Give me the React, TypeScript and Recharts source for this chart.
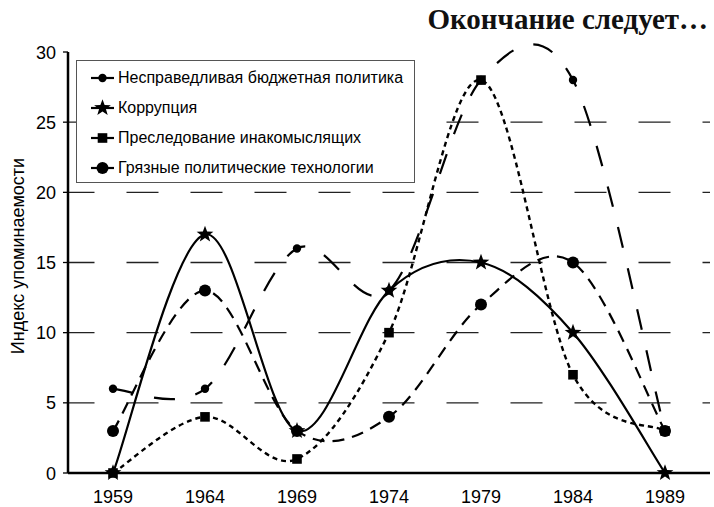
import React from 'react';
import { LineChart, Line, XAxis, YAxis, ReferenceLine, Legend, Label } from 'recharts';

const years = ['1959', '1964', '1969', '1974', '1979', '1984', '1989'];
const budgetPolicy = [6, 6, 16, 13, 28, 28, 3];
const corruption = [0, 17, 3, 13, 15, 10, 0];
const persecution = [0, 4, 1, 10, 28, 7, 3];
const dirtyTech = [3, 13, 3, 4, 12, 15, 3];
const yTicks = [0, 5, 10, 15, 20, 25, 30];
const gridLevels = [5, 10, 15, 20, 25];

const seriesNames = [
  'Несправедливая бюджетная политика',
  'Коррупция',
  'Преследование инакомыслящих',
  'Грязные политические технологии',
];
const titleText = 'Окончание следует…';
const yLabelText = 'Индекс упоминаемости';

const SANS = '"Liberation Sans", Arial, sans-serif';

const data = years.map((y, i) => ({
  year: y,
  budget: budgetPolicy[i],
  corruption: corruption[i],
  persecution: persecution[i],
  dirty: dirtyTech[i],
}));

// Excel-like smoothed line (Catmull-Rom via cubic Bezier)
const smoothCurve = (context: any) => {
  let pts: number[][] = [];
  return {
    areaStart() {},
    areaEnd() {},
    lineStart() {
      pts = [];
    },
    point(x: number, y: number) {
      pts.push([+x, +y]);
    },
    lineEnd() {
      const n = pts.length;
      if (!n) return;
      context.moveTo(pts[0][0], pts[0][1]);
      for (let i = 0; i < n - 1; i++) {
        const p0 = pts[i - 1] || pts[i];
        const p1 = pts[i];
        const p2 = pts[i + 1];
        const p3 = pts[i + 2] || p2;
        context.bezierCurveTo(
          p1[0] + (p2[0] - p0[0]) / 6,
          p1[1] + (p2[1] - p0[1]) / 6,
          p2[0] - (p3[0] - p1[0]) / 6,
          p2[1] - (p3[1] - p1[1]) / 6,
          p2[0],
          p2[1]
        );
      }
    },
  };
};

const starPath = (cx: number, cy: number, R: number, r: number) => {
  let d = '';
  for (let i = 0; i < 10; i++) {
    const rad = i % 2 === 0 ? R : r;
    const a = -Math.PI / 2 + (i * Math.PI) / 5;
    d += (i === 0 ? 'M' : 'L') + (cx + rad * Math.cos(a)).toFixed(2) + ',' + (cy + rad * Math.sin(a)).toFixed(2);
  }
  return d + 'Z';
};

type Kind = 'smallCircle' | 'star' | 'square' | 'bigCircle';

const Marker = ({ kind, cx, cy }: { kind: Kind; cx: number; cy: number }) => {
  if (kind === 'smallCircle') return <circle cx={cx} cy={cy} r={4.2} fill="#000" />;
  if (kind === 'bigCircle') return <circle cx={cx} cy={cy} r={6} fill="#000" />;
  if (kind === 'square') return <rect x={cx - 4.8} y={cy - 4.8} width={9.6} height={9.6} fill="#000" />;
  return <path d={starPath(cx, cy, 8.8, 3.6)} fill="#000" />;
};

const dotRenderer = (kind: Kind) => (p: any) =>
  <Marker key={`${kind}-${p.index}`} kind={kind} cx={p.cx} cy={p.cy} />;

const kinds: Kind[] = ['smallCircle', 'star', 'square', 'bigCircle'];

const renderLegend = () => (
  <div
    style={{
      boxSizing: 'border-box',
      width: 339,
      height: 123,
      border: '1px solid #555',
      background: '#fff',
      paddingTop: 2,
      fontFamily: SANS,
      fontSize: 16,
      color: '#000',
    }}
  >
    {seriesNames.map((name, i) => (
      <div key={name} style={{ height: 30, display: 'flex', alignItems: 'center', paddingLeft: 14 }}>
        <svg width={24} height={18} style={{ flex: 'none' }}>
          <line x1={0} y1={9} x2={23} y2={9} stroke="#000" strokeWidth={2.2} />
          <Marker kind={kinds[i]} cx={11.5} cy={9} />
        </svg>
        <span style={{ marginLeft: 3, whiteSpace: 'nowrap' }}>{name}</span>
      </div>
    ))}
  </div>
);

const YLabel = () => (
  <text
    x={18}
    y={256}
    transform="rotate(-90, 18, 256)"
    textAnchor="middle"
    dominantBaseline="central"
    fontSize={18}
    fill="#000"
    fontFamily={SANS}
  >
    {yLabelText}
  </text>
);

const XTick = (p: any) => (
  <g transform={`translate(${p.x},${p.y})`}>
    <text x={0} y={18} textAnchor="middle" fontSize={18} fill="#000" fontFamily={SANS}>
      {p.payload.value}
    </text>
  </g>
);

const YTick = (p: any) => (
  <text x={p.x} y={p.y} dy={6.5} textAnchor="end" fontSize={18} fill="#000" fontFamily={SANS}>
    {p.payload.value}
  </text>
);

export default function App() {
  return (
    <div style={{ position: 'absolute', left: 0, top: 0, width: 714, height: 507, background: '#fff' }}>
      <div
        style={{
          position: 'absolute',
          right: 6,
          top: 3,
          fontFamily: '"Liberation Serif", "Times New Roman", serif',
          fontWeight: 'bold',
          fontSize: 29,
          color: '#111',
          whiteSpace: 'nowrap',
          zIndex: 2,
        }}
      >
        {titleText}
      </div>
      <LineChart width={714} height={507} data={data} margin={{ top: 52, right: 4, left: 0, bottom: 0 }}>
        <XAxis
          dataKey="year"
          type="category"
          height={34}
          padding={{ left: 45, right: 45 }}
          interval={0}
          tickLine={false}
          tickSize={6}
          tickMargin={6}
          axisLine={{ stroke: '#000', strokeWidth: 2.5 }}
          tick={<XTick />}
        />
        <XAxis
          xAxisId="top"
          dataKey="year"
          orientation="top"
          height={0}
          tick={false}
          tickLine={false}
          axisLine={{ stroke: '#000', strokeWidth: 2.5 }}
        />
        <YAxis
          domain={[0, 30]}
          ticks={yTicks}
          interval={0}
          width={68}
          tickSize={5}
          tickMargin={7}
          tickLine={{ stroke: '#000', strokeWidth: 1.3 }}
          axisLine={{ stroke: '#000', strokeWidth: 2.5 }}
          tick={<YTick />}
        >
          <Label content={<YLabel />} />
        </YAxis>
        <YAxis
          yAxisId="right"
          orientation="right"
          domain={[0, 30]}
          width={0}
          tick={false}
          tickLine={false}
          axisLine={{ stroke: '#000', strokeWidth: 2 }}
        />
        {gridLevels.map((v) => (
          <ReferenceLine
            key={v}
            y={v}
            stroke="#222"
            strokeWidth={1.3}
            strokeDasharray="32 32"
            strokeDashoffset={5.5}
          />
        ))}
        <Legend
          layout="vertical"
          align="center"
          verticalAlign="middle"
          wrapperStyle={{ left: 76, top: 60, width: 339, height: 123 }}
          content={renderLegend}
        />
        <Line
          dataKey="dirty"
          type={smoothCurve as any}
          stroke="#000"
          strokeWidth={2.2}
          strokeDasharray="12 8"
          dot={dotRenderer('bigCircle')}
          activeDot={false}
          isAnimationActive={false}
        />
        <Line
          dataKey="persecution"
          type={smoothCurve as any}
          stroke="#000"
          strokeWidth={2.4}
          strokeDasharray="5 4"
          dot={dotRenderer('square')}
          activeDot={false}
          isAnimationActive={false}
        />
        <Line
          dataKey="budget"
          type={smoothCurve as any}
          stroke="#000"
          strokeWidth={2.2}
          strokeDasharray="21 21"
          dot={dotRenderer('smallCircle')}
          activeDot={false}
          isAnimationActive={false}
        />
        <Line
          dataKey="corruption"
          type={smoothCurve as any}
          stroke="#000"
          strokeWidth={2.2}
          dot={dotRenderer('star')}
          activeDot={false}
          isAnimationActive={false}
        />
      </LineChart>
    </div>
  );
}
